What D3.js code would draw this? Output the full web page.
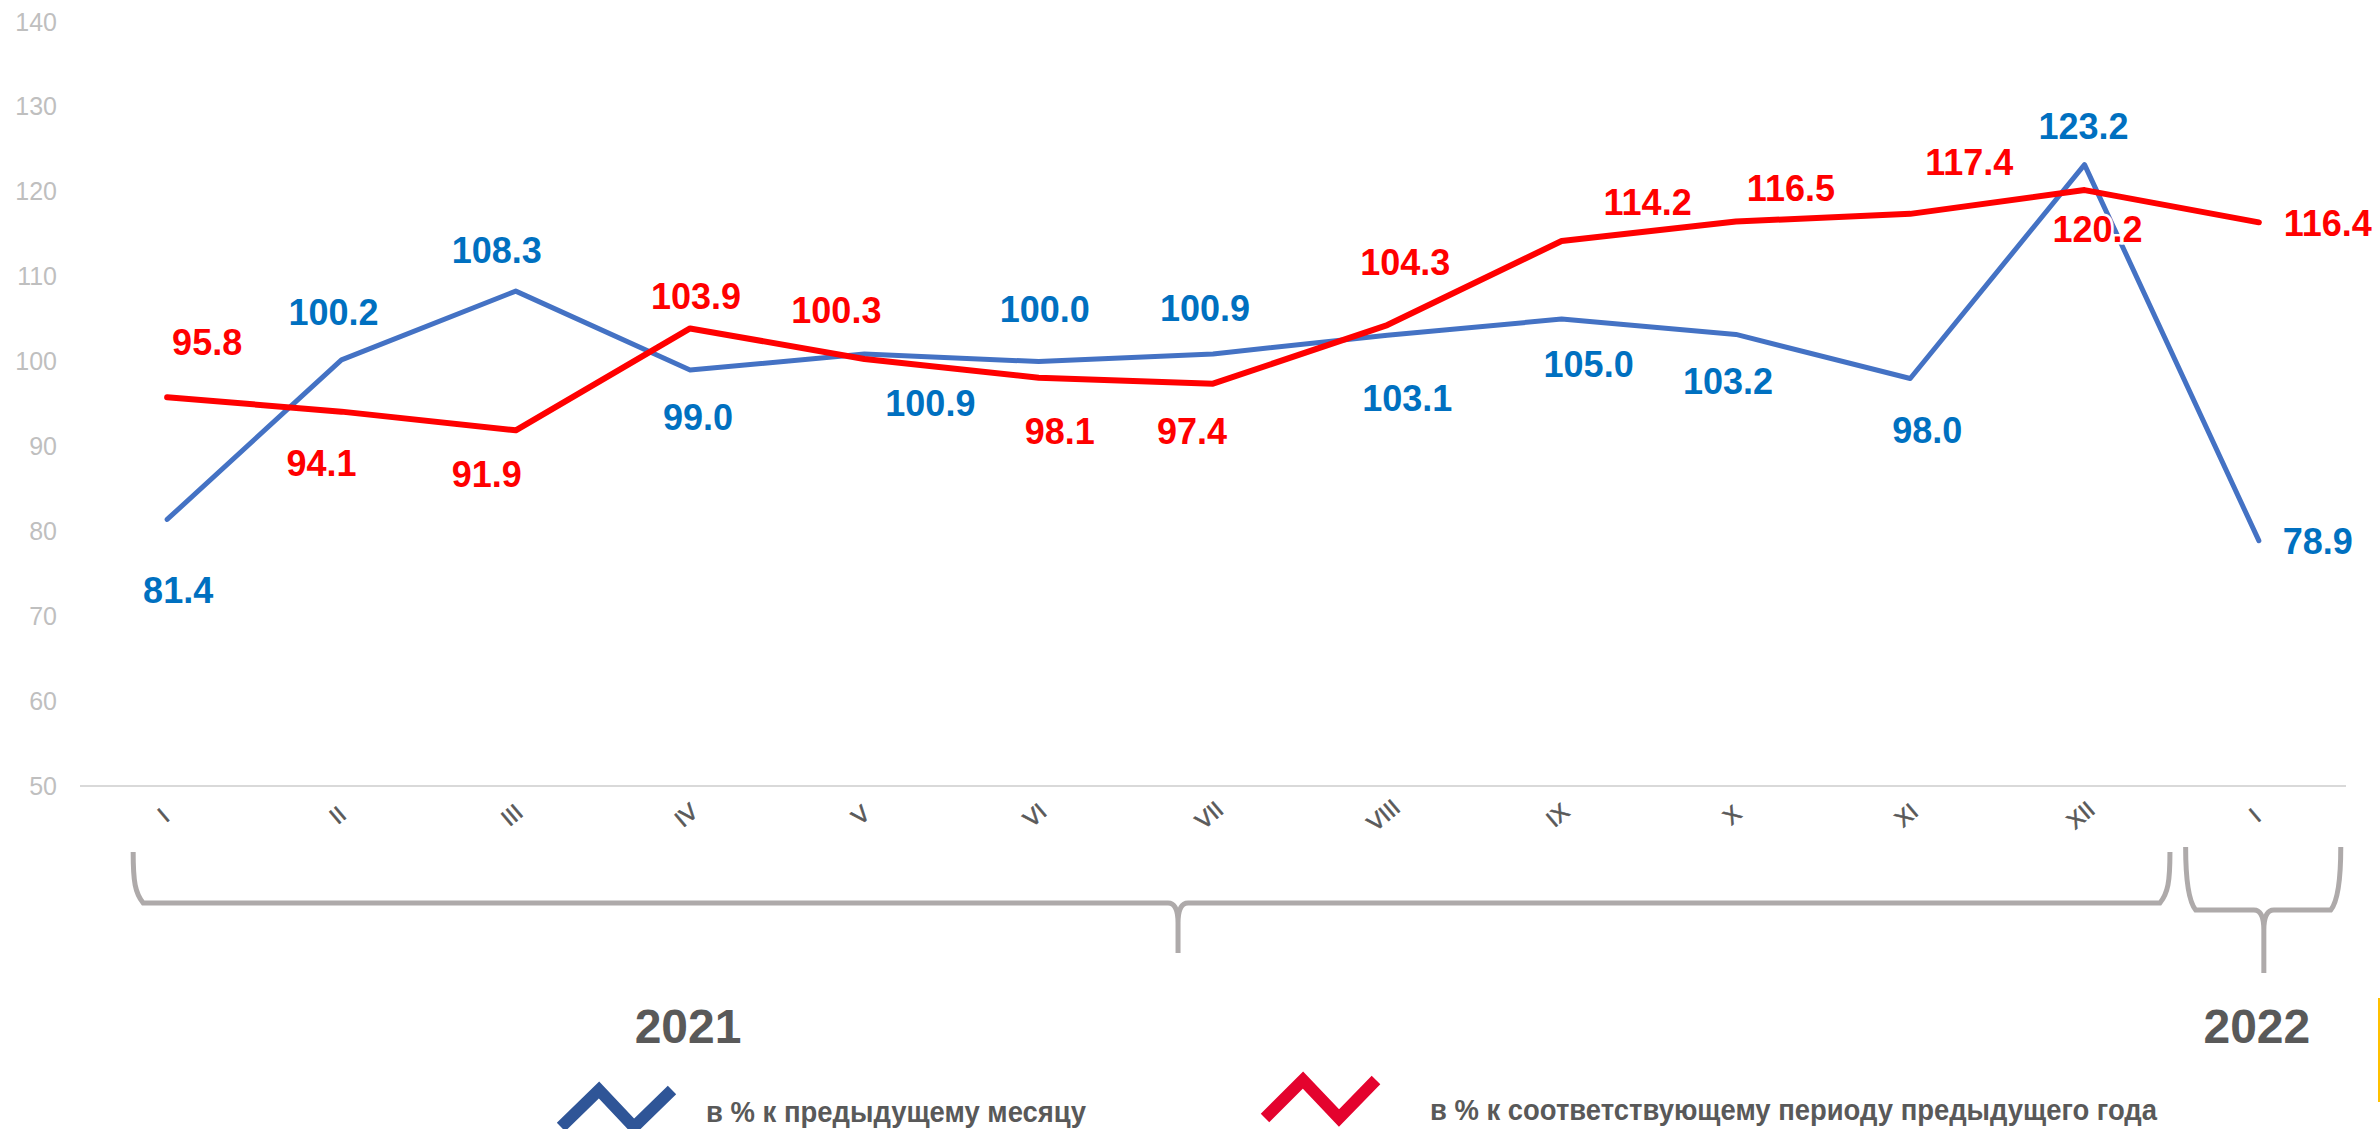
<!DOCTYPE html>
<html>
<head>
<meta charset="utf-8">
<script src="https://cdn.jsdelivr.net/npm/d3@7"></script>
<style>
  body { margin: 0; background: #fff; }
  svg { display: block; font-family: "Liberation Sans", Arial, sans-serif; }
  .axis text { fill: #bfbfbf; font-size: 25px; }
  .x-axis text { fill: #595959; font-size: 23px; stroke: #595959; stroke-width: 0.6px; }
  .value { font-size: 36px; font-weight: bold; }
  .year { fill: #595959; font-size: 48px; font-weight: bold; }
  .legend-label { fill: #595959; font-size: 30px; font-weight: bold; }
</style>
</head>
<body>
<svg id="chart" width="2380" height="1129"></svg>
<script>
const width = 2380;
const height = 1129;

// months, 2021 I..XII and 2022 I
const months = ["I", "II", "III", "IV", "V", "VI", "VII", "VIII", "IX", "X", "XI", "XII", "I"];
// в % к предыдущему месяцу
const prevMonth = [81.4, 100.2, 108.3, 99.0, 100.9, 100.0, 100.9, 103.1, 105.0, 103.2, 98.0, 123.2, 78.9];
// в % к соответствующему периоду предыдущего года
const prevYear = [95.8, 94.1, 91.9, 103.9, 100.3, 98.1, 97.4, 104.3, 114.2, 116.5, 117.4, 120.2, 116.4];
const yTicks = [50, 60, 70, 80, 90, 100, 110, 120, 130, 140];
const years = ["2021", "2022"];
const legendLabels = ["в % к предыдущему месяцу", "в % к соответствующему периоду предыдущего года"];

// hand placed label nudges (px, relative to the point)
const blueOffsets = [[11, 71], [-8, -47], [-19, -41], [8, 47], [66, 49], [6, -52], [-8, -46],
  [20, 63], [27, 45], [-8, 47], [17, 52], [-1, -38], [59, 1]];
const redOffsets = [[40, -55], [-20, 52], [-29, 44], [6, -32], [-28, -49], [21, 54], [-21, 48],
  [18, -63], [86, -39], [55, -33], [59, -51], [13, 39], [69, 1]];

const margin = { top: 22, left: 80, right: 34 };
const baseY = 786;

let svg = d3.select("svg#chart");

/* SCALES */

let xScale = d3.scaleBand()
  .domain(d3.range(months.length))
  .range([margin.left, width - margin.right]);

const cx = i => xScale(i) + xScale.bandwidth() / 2;

let yScale = d3.scaleLinear()
  .domain([50, 140])
  .range([baseY, margin.top]);

/* AXES */

let yGroup = svg.append("g").attr("class", "axis")
  .attr("transform", "translate(" + margin.left + ",0)")
  .call(d3.axisLeft(yScale).tickValues(yTicks).tickSize(0).tickPadding(23));
yGroup.select(".domain").remove();
yGroup.selectAll("text").attr("font-family", null).attr("font-size", null);

svg.append("line")
  .attr("x1", margin.left).attr("x2", width - margin.right)
  .attr("y1", yScale(50)).attr("y2", yScale(50))
  .attr("stroke", "#d9d9d9").attr("stroke-width", 2);

let xGroup = svg.append("g").attr("class", "x-axis")
  .attr("transform", "translate(0," + baseY + ")")
  .call(d3.axisBottom(xScale).tickFormat(i => months[i]).tickSize(0));
xGroup.select(".domain").remove();
xGroup.selectAll("text")
  .attr("font-family", null).attr("font-size", null)
  .attr("y", 0).attr("dy", "0.35em")
  .attr("text-anchor", "middle")
  .attr("transform", "translate(-4,29) rotate(-40)");

/* LINES */

const line = d3.line()
  .x((d, i) => cx(i))
  .y(d => yScale(d));

svg.append("path")
  .datum(prevMonth)
  .attr("d", line)
  .attr("fill", "none")
  .attr("stroke", "#4472c4")
  .attr("stroke-width", 5)
  .attr("stroke-linejoin", "round")
  .attr("stroke-linecap", "round");

svg.append("path")
  .datum(prevYear)
  .attr("d", line)
  .attr("fill", "none")
  .attr("stroke", "#ff0000")
  .attr("stroke-width", 6)
  .attr("stroke-linejoin", "round")
  .attr("stroke-linecap", "round");

/* VALUE LABELS */

function addLabels(values, offsets, color) {
  svg.append("g")
    .selectAll("text")
    .data(values)
    .enter()
    .append("text")
      .attr("class", "value")
      .attr("x", (d, i) => cx(i) + offsets[i][0])
      .attr("y", (d, i) => yScale(d) + offsets[i][1])
      .attr("dy", "0.35em")
      .attr("text-anchor", "middle")
      .attr("fill", color)
      .attr("stroke", "#fff")
      .attr("stroke-width", 5)
      .attr("paint-order", "stroke")
      .text(d => d.toFixed(1));
}

addLabels(prevMonth, blueOffsets, "#0070c0");
addLabels(prevYear, redOffsets, "#ff0000");

/* BRACES */

function bracePath(x0, x1, xm, yTop, yMid, yTip) {
  const r = 10;
  return "M" + x0 + "," + yTop +
    " C" + x0 + "," + (yTop + 30) + " " + (x0 + 2) + "," + (yMid - r) + " " + (x0 + r) + "," + yMid +
    " L" + (xm - r) + "," + yMid +
    " Q" + xm + "," + yMid + " " + xm + "," + (yMid + 2 * r) +
    " L" + xm + "," + yTip +
    " M" + xm + "," + (yMid + 2 * r) +
    " Q" + xm + "," + yMid + " " + (xm + r) + "," + yMid +
    " L" + (x1 - r) + "," + yMid +
    " C" + (x1 - 2) + "," + (yMid - r) + " " + x1 + "," + (yTop + 30) + " " + x1 + "," + yTop;
}

const step = xScale.step();
const last = months.length - 1;
const b0 = cx(0) - 0.195 * step, b1 = cx(last - 1) + 0.49 * step;
const s0 = cx(last) - 0.42 * step, s1 = cx(last) + 0.47 * step;

const braceGroup = svg.append("g")
  .attr("fill", "none")
  .attr("stroke", "#aeaaaa")
  .attr("stroke-width", 5);

braceGroup.append("path")
  .attr("d", bracePath(b0, b1, b0 + 0.513 * (b1 - b0), 852, 903, 953));
braceGroup.append("path")
  .attr("d", bracePath(s0, s1, cx(last) + 5, 847, 910, 973));

svg.selectAll("text.year")
  .data(years)
  .enter()
  .append("text")
    .attr("class", "year")
    .attr("x", (d, i) => i === 0 ? cx(3) - 2 : cx(last) - 2)
    .attr("y", 1043)
    .attr("text-anchor", "middle")
    .text(d => d);

/* LEGEND */

const legendGroup = svg.append("g").attr("id", "legend");

legendGroup.append("polyline")
  .attr("points", "561,1127 599,1090 634,1127 672,1090")
  .attr("fill", "none")
  .attr("stroke", "#2f5597")
  .attr("stroke-width", 12);

legendGroup.append("text")
  .attr("class", "legend-label")
  .attr("x", 706)
  .attr("y", 1122)
  .attr("textLength", 380)
  .attr("lengthAdjust", "spacingAndGlyphs")
  .text(legendLabels[0]);

legendGroup.append("polyline")
  .attr("points", "1265,1118 1303,1080 1339,1118 1376,1080")
  .attr("fill", "none")
  .attr("stroke", "#e4032e")
  .attr("stroke-width", 12);

legendGroup.append("text")
  .attr("class", "legend-label")
  .attr("x", 1430)
  .attr("y", 1120)
  .attr("textLength", 727)
  .attr("lengthAdjust", "spacingAndGlyphs")
  .text(legendLabels[1]);

// thin gold rule at the right edge
svg.append("line")
  .attr("x1", 2379).attr("x2", 2379)
  .attr("y1", 998).attr("y2", 1102)
  .attr("stroke", "#ffc000")
  .attr("stroke-width", 2);
</script>
</body>
</html>
